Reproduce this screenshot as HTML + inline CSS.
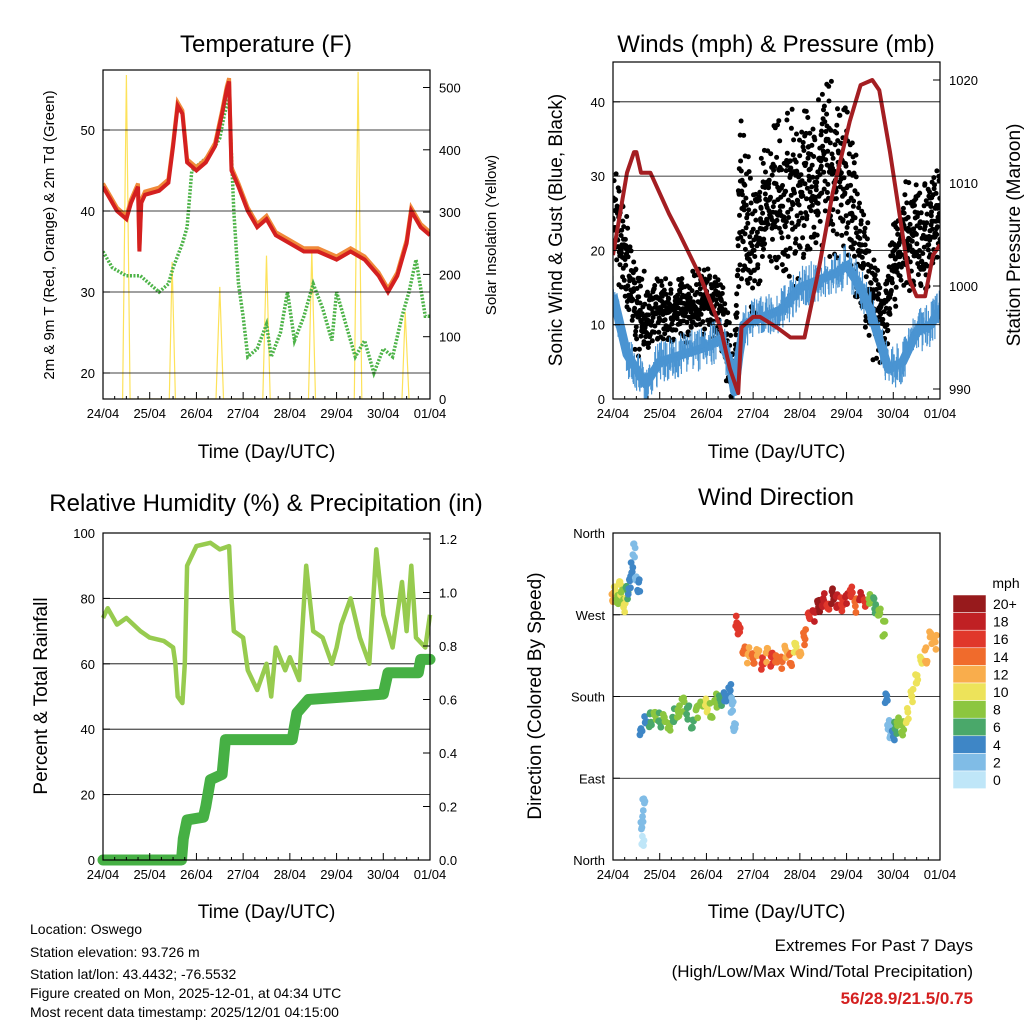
<!DOCTYPE html>
<html><head><meta charset="utf-8"><style>
html,body{margin:0;padding:0;background:#fff;}
svg{display:block;font-family:"Liberation Sans",sans-serif;}
</style></head><body>
<svg id="c" width="1024" height="1024" viewBox="0 0 1024 1024"></svg>
<script>
// ---------- DATA ----------
const dayLabels = ["24/04","25/04","26/04","27/04","28/04","29/04","30/04","01/04"];
// Temperature (F)
const tempT = [0,0.15,0.3,0.5,0.6,0.75,0.78,0.82,0.9,1.2,1.4,1.5,1.6,1.7,1.8,2.0,2.2,2.4,2.55,2.65,2.7,2.75,2.9,3.1,3.3,3.5,3.7,4.0,4.3,4.6,5.0,5.3,5.6,5.9,6.1,6.3,6.5,6.6,6.8,7.0];
const tempV = [43,41.5,40,39,41,43,35,41,42,42.5,43.5,48,53,52,46,45,46,48,52,55,56,45,43,40,38,39,37,36,35,35,34,35,34,32,30,32,36,40,38,37];
const dewT = [0,0.2,0.5,0.8,1.0,1.2,1.4,1.5,1.7,1.8,1.9,2.1,2.3,2.5,2.6,2.7,2.8,2.9,3.0,3.1,3.3,3.5,3.6,3.8,3.95,4.1,4.3,4.5,4.7,4.9,5.0,5.2,5.4,5.6,5.8,6.0,6.2,6.4,6.55,6.7,6.9,7.0];
const dewV = [35,33,32,32,31,30,31,33,36,38,45,46,47,49,52,54,40,31,27,22,23,26,22,25,30,24,27,31,28,24,30,26,22,24,20,23,22,27,30,34,27,27];
const solarT = [0.42,0.5,0.58,1.42,1.48,1.55,2.42,2.5,2.58,3.42,3.5,3.58,4.4,4.47,4.55,5.38,5.46,5.54,6.4,6.47,6.55];
const solarV = [0,520,0,0,220,0,0,180,0,0,230,0,0,240,0,0,525,0,0,140,0];
// Winds
const windT = [0,0.15,0.3,0.5,0.7,1.0,1.5,2.0,2.3,2.5,2.6,2.7,2.8,3.2,3.6,4.0,4.4,4.8,5.0,5.3,5.5,5.7,5.9,6.2,6.5,6.8,7.0];
const windV = [14,10,6,4,2,5,6,7,8,5,1,6,10,11,12,15,16,17,18,15,12,8,4,5,9,10,12];
const gustT = [0,0.15,0.3,0.5,1.0,1.5,2.0,2.3,2.5,2.6,2.7,3.0,3.3,3.6,4.0,4.3,4.6,5.0,5.3,5.6,5.8,6.0,6.3,6.6,7.0];
const gustV = [25,22,18,11,12,12,13,12,5,2,27,20,26,27,28,30,32,29,20,12,10,18,22,20,26];
const gustSpread = [5,5,5,4,3,3,3,3,4,2,7,6,6,7,8,7,8,7,6,5,4,4,5,5,5];
const presT = [0,0.3,0.45,0.5,0.6,0.8,1.2,1.43,1.86,2.3,2.5,2.68,2.75,3.0,3.15,3.5,3.8,4.1,4.4,4.7,5.07,5.3,5.55,5.7,5.93,6.2,6.35,6.5,6.68,6.85,7.0];
const presV = [1003,1011,1013,1013,1011,1011,1007,1005,1001,996,992,989.6,996,997,997,996,995,995,1001.5,1009,1016,1019.5,1020,1019,1013,1005,1000.6,999,999,1003,1004];
// Humidity / Precip
const rhT = [0,0.1,0.3,0.5,0.8,1.0,1.3,1.5,1.55,1.6,1.7,1.75,1.8,2.0,2.3,2.5,2.7,2.75,2.8,3.0,3.1,3.3,3.5,3.6,3.7,3.9,4.0,4.2,4.35,4.5,4.7,4.9,5.0,5.1,5.3,5.5,5.7,5.85,6.0,6.2,6.4,6.5,6.6,6.7,6.9,7.0];
const rhV = [74,77,72,74,70,68,67,65,60,50,48,60,90,96,97,95,96,80,70,68,58,52,60,50,65,58,62,55,90,70,68,60,65,72,80,68,60,95,75,65,85,70,90,68,65,75];
const precT = [0,1.68,1.72,1.8,2.15,2.2,2.3,2.55,2.62,4.05,4.1,4.15,4.4,6.0,6.1,6.75,6.8,7.0];
const precV = [0,0,0.08,0.15,0.16,0.2,0.3,0.32,0.45,0.45,0.5,0.55,0.6,0.62,0.7,0.7,0.75,0.75];
// Wind direction
const dirT = [0.0,0.05,0.1,0.15,0.2,0.25,0.3,0.35,0.4,0.45,0.5,0.55,0.6,0.62,0.64,0.66,0.7,0.8,0.9,1.0,1.1,1.2,1.3,1.4,1.5,1.6,1.7,1.8,1.9,2.0,2.1,2.2,2.3,2.4,2.5,2.55,2.6,2.65,2.7,2.8,2.9,3.0,3.1,3.2,3.3,3.4,3.5,3.6,3.7,3.8,3.9,4.0,4.1,4.2,4.3,4.4,4.5,4.6,4.7,4.8,4.9,5.0,5.1,5.2,5.3,5.4,5.5,5.6,5.7,5.8,5.85,5.9,5.95,6.0,6.05,6.1,6.2,6.3,6.4,6.5,6.6,6.7,6.8,6.9];
const dirV = [290,295,285,300,290,280,295,300,320,340,310,300,140,40,20,60,150,155,158,155,160,150,158,165,170,162,150,165,168,170,165,175,172,180,185,170,150,260,255,235,225,220,230,215,225,220,225,215,230,220,235,230,245,265,270,280,285,278,290,285,282,285,292,280,288,285,290,280,275,255,180,150,140,135,145,150,145,160,180,200,215,225,245,240];
const dirS = [12,10,8,10,9,11,7,5,4,3,3,5,4,2,1,2,5,7,8,7,9,8,7,9,8,6,7,9,8,10,9,8,7,5,4,3,3,16,17,14,13,15,12,16,13,17,14,15,12,14,11,13,15,16,19,20,18,17,20,18,16,19,17,15,18,16,8,7,9,8,4,3,3,5,7,9,8,10,11,10,11,12,13,12];
const speedLabels = ["20+","18","16","14","12","10","8","6","4","2","0"];

// ---------- HELPERS ----------
const NS="http://www.w3.org/2000/svg";
const svg=document.getElementById('c');
function mk(tag,attrs,parent){const e=document.createElementNS(NS,tag);for(const k in attrs)e.setAttribute(k,attrs[k]);(parent||svg).appendChild(e);return e;}
function txt(s,x,y,size,anchor,rot,parent,extra){const e=mk('text',Object.assign({x:x,y:y,'font-size':size,'text-anchor':anchor||'middle',fill:'#000'},extra||{}),parent);if(rot)e.setAttribute('transform','rotate('+rot+' '+x+' '+y+')');e.textContent=s;return e;}
const speedColors=["#bfe6f8","#80bce6","#3e86c6","#4aa86a","#8cc63f","#ede35a","#f9ad4c","#f06b2c","#e0372b","#c02024","#971a1c"];
function speedColor(s){return speedColors[Math.min(10,Math.max(0,Math.floor(s/2)))];}
function interp(T,V,t){if(t<=T[0])return V[0];for(let i=1;i<T.length;i++){if(t<=T[i]){const f=(t-T[i-1])/(T[i]-T[i-1]);return V[i-1]+f*(V[i]-V[i-1]);}}return V[V.length-1];}
// deterministic scatter jitter (visual texture only, around data values)
function hash(n){const s=Math.sin(n*12.9898+78.233)*43758.5453;return s-Math.floor(s);}

function panel(name,x0,x1,y0,y1){
  const g=mk('g',{});
  return {g:g,x:d=>x0+d*(x1-x0)/7,x0:x0,x1:x1,y0:y0,y1:y1};
}
function frame(p){
  const r=mk('rect',{x:p.x0,y:p.y0,width:p.x1-p.x0,height:p.y1-p.y0,fill:'none',stroke:'#000','stroke-width':1.2},p.g);
  
}
function xAxis(p,ty){
  const g=mk('g',{},p.g);
  for(let i=0;i<8;i++){const X=p.x(i);mk('line',{x1:X,x2:X,y1:p.y1,y2:p.y1-7,stroke:'#000'},g);
    if(i<7)for(let k=1;k<4;k++){const xm=p.x(i+k/4);mk('line',{x1:xm,x2:xm,y1:p.y1,y2:p.y1-3,stroke:'#000'},g);}
    const t=txt(dayLabels[i],X,p.y1+19,13,'middle',0,g);}
  const t=txt('Time (Day/UTC)',(p.x0+p.x1)/2,ty,19,'middle',0,g);
}
function yAxis(p,vals,labels,fy,side,grid){
  const g=mk('g',{},p.g);
  vals.forEach((v,i)=>{const Y=fy(v);
    if(grid&&Y>p.y0+1&&Y<p.y1-1){mk('line',{x1:p.x0,x2:p.x1,y1:Y,y2:Y,stroke:'#000','stroke-width':0.8},g);}
    const xe=side==='l'?p.x0:p.x1, dir=side==='l'?1:-1;
    mk('line',{x1:xe,x2:xe+dir*7,y1:Y,y2:Y,stroke:'#000'},g);
    const t=txt(labels[i],side==='l'?p.x0-8:p.x1+9,Y+5,13,side==='l'?'end':'start',0,g);
    });
}
function pts(p,T,V,fy){return T.map((t,i)=>p.x(t).toFixed(1)+','+fy(V[i]).toFixed(1)).join(' ');}

// ---------- PANEL 1: TEMPERATURE ----------
{
const p=panel('temperature-panel',103,430,70,399);
const yT=v=>373-(v-20)*8.1, yS=v=>399-v*0.623;
mk('clipPath',{id:'cp1'},p.g).appendChild(mk('rect',{x:103,y:70,width:327,height:329}));
const dg=mk('g',{'clip-path':'url(#cp1)'},p.g);
const sol=mk('polyline',{points:pts(p,solarT,solarV,yS),fill:'none',stroke:'#fde25a','stroke-width':1.2},dg);

const dw=mk('polyline',{points:pts(p,dewT,dewV,yT),fill:'none',stroke:'#4db348','stroke-width':3.5,'stroke-dasharray':'2 1.5'},dg);

const t9=mk('polyline',{points:pts(p,tempT,tempV.map(v=>v+0.4),yT),fill:'none',stroke:'#f08a3a','stroke-width':4},dg);

const t2=mk('polyline',{points:pts(p,tempT,tempV,yT),fill:'none',stroke:'#d42020','stroke-width':4},dg);

frame(p);xAxis(p,458);
yAxis(p,[20,30,40,50],['20','30','40','50'],yT,'l',true);
yAxis(p,[0,100,200,300,400,500],['0','100','200','300','400','500'],yS,'r',false);
let t=txt('Temperature (F)',266,52,24,'middle',0,p.g);
t=txt('2m & 9m T (Red, Orange) & 2m Td (Green)',54,235,15,'middle',-90,p.g);
t=txt('Solar Insolation (Yellow)',496,235,15,'middle',-90,p.g);
}

// ---------- PANEL 2: WINDS ----------
{
const p=panel('winds-panel',613,940,62,399);
const yW=v=>399-v*7.43, yP=v=>286-(v-1000)*10.3;
mk('clipPath',{id:'cp2'},p.g).appendChild(mk('rect',{x:613,y:62,width:327,height:337}));
const dg=mk('g',{'clip-path':'url(#cp2)'},p.g);
yAxis(p,[0,10,20,30,40],['0','10','20','30','40'],yW,'l',true);
const gg=mk('g',{},dg);
const N=1500;
for(let i=0;i<N;i++){
  const t=7*i/(N-1);
  const c=interp(gustT,gustV,t), s=interp(gustT,gustSpread,t);
  const off=(hash(i)+hash(i+5000)-1)*1.7*s;
  mk('circle',{cx:p.x(t).toFixed(1),cy:yW(c+off).toFixed(1),r:2.5,fill:'#000'},gg);
}
const wg=mk('g',{},dg);
mk('polyline',{points:pts(p,windT,windV,yW),fill:'none',stroke:'#4a94d2','stroke-width':9,'stroke-linejoin':'round'},wg);
for(let i=0;i<900;i++){
  const t=7*i/899, c=interp(windT,windV,t);
  const off=(hash(i+9000)-0.5)*6;
  mk('line',{x1:p.x(t).toFixed(1),x2:p.x(t).toFixed(1),y1:yW(c).toFixed(1),y2:yW(c+off).toFixed(1),stroke:'#4a94d2','stroke-width':1.2},wg);
}
const pl=mk('polyline',{points:pts(p,presT,presV,yP),fill:'none',stroke:'#a41e22','stroke-width':4,'stroke-linejoin':'round'},dg);

frame(p);xAxis(p,458);
yAxis(p,[990,1000,1010,1020],['990','1000','1010','1020'],yP,'r',false);
let t=txt('Winds (mph) & Pressure (mb)',776,52,24,'middle',0,p.g);
t=txt('Sonic Wind & Gust (Blue, Black)',562,230,19,'middle',-90,p.g);
t=txt('Station Pressure (Maroon)',1020,235,19,'middle',-90,p.g);
}

// ---------- PANEL 3: HUMIDITY ----------
{
const p=panel('humidity-panel',103,430,533,860);
const yR=v=>860-v*3.27, yPr=v=>860-v*267.5;
yAxis(p,[0,20,40,60,80,100],['0','20','40','60','80','100'],yR,'l',true);
const pr=precT.map((t,i)=>p.x(t).toFixed(1)+','+yPr(precV[i]).toFixed(1)).join(' ');
const pl=mk('polyline',{points:pr,fill:'none',stroke:'#46b044','stroke-width':11,'stroke-linejoin':'round','stroke-linecap':'round'},p.g);

const rl=mk('polyline',{points:pts(p,rhT,rhV,yR),fill:'none',stroke:'#97cb4f','stroke-width':4.5,'stroke-linejoin':'round'},p.g);

frame(p);xAxis(p,918);
yAxis(p,[0,0.2,0.4,0.6,0.8,1.0,1.2],['0.0','0.2','0.4','0.6','0.8','1.0','1.2'],yPr,'r',false);
let t=txt('Relative Humidity (%) & Precipitation (in)',266,511,24,'middle',0,p.g);
t=txt('Percent & Total Rainfall',47,696,19,'middle',-90,p.g);
}

// ---------- PANEL 4: WIND DIRECTION ----------
{
const p=panel('wind-direction-panel',613,940,533,860);
const yD=v=>860-v*(327/360);
yAxis(p,[0,90,180,270,360],['North','East','South','West','North'],yD,'l',true);
dirT.forEach((t,i)=>{
  [-2,-1,0,1,2].forEach(k=>{
    const c=mk('circle',{cx:p.x(t+k*0.012),cy:yD(dirV[i]+(hash(i*7+k)-0.5)*18),r:3.4,fill:speedColor(dirS[i])},p.g);
    
  });
});
frame(p);xAxis(p,918);
let t=txt('Wind Direction',776,505,24,'middle',0,p.g);
t=txt('Direction (Colored By Speed)',541,696,19,'middle',-90,p.g);
const cb=mk('g',{});
txt('mph',1006,588,14,'middle',0,cb);
speedLabels.forEach((l,i)=>{
  const yy=595+i*17.6;
  const r=mk('rect',{x:953,y:yy,width:33,height:17.6,fill:speedColors[10-i],stroke:'#fff','stroke-width':0.5},cb);
  
  const tt=txt(l,993,yy+14,14,'start',0,cb);
});
}

// ---------- FOOTER ----------
{
const g=mk('g',{});
const ys=[934,957,979,998,1017];
["Location: Oswego","Station elevation: 93.726 m","Station lat/lon: 43.4432; -76.5532","Figure created on Mon, 2025-12-01, at 04:34 UTC","Most recent data timestamp: 2025/12/01 04:15:00"].forEach((s,i)=>{txt(s,30,ys[i],14,'start',0,g);});
const g2=mk('g',{});
txt('Extremes For Past 7 Days',973,951,17,'end',0,g2);
txt('(High/Low/Max Wind/Total Precipitation)',973,977,17,'end',0,g2);
txt('56/28.9/21.5/0.75',973,1004,17,'end',0,g2,{fill:'#d42020','font-weight':'bold'});
}
</script>
</body></html>
